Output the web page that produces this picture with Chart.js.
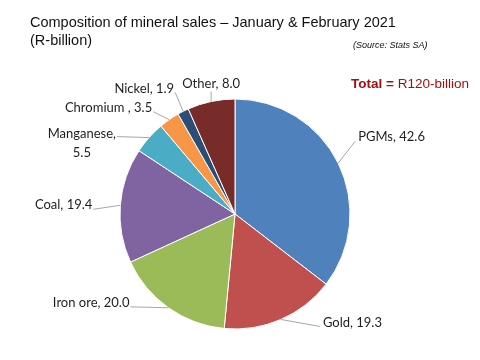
<!DOCTYPE html>
<html>
<head>
<meta charset="utf-8">
<script src="https://cdn.jsdelivr.net/npm/chart.js@4.4.1/dist/chart.umd.min.js"></script>
<style>
  html, body { margin: 0; padding: 0; background: #fff; }
  #wrap { position: relative; width: 480px; height: 360px; }
  #title {
    position: absolute; left: 30px; top: 13px;
    font-family: 'Liberation Sans', Arial, sans-serif; font-size: 14.5px; line-height: 18px;
    color: #111;
  }
  #source {
    position: absolute; left: 353px; top: 40px;
    font-family: 'Liberation Sans', Arial, sans-serif; font-size: 9px; font-style: italic; line-height: 10px;
    color: #111;
  }
  #total {
    position: absolute; left: 351px; top: 76px;
    font-family: 'Liberation Sans', Arial, sans-serif; font-size: 13.5px; line-height: 16px;
    color: #a01010;
  }
</style>
</head>
<body>
<div id="wrap">
  <canvas id="mineralPie" width="480" height="360"></canvas>
  <div id="title">Composition of mineral sales – January &amp; February 2021<br>(R-billion)</div>
  <div id="source">(Source: Stats SA)</div>
  <div id="total"><b>Total =</b> R120-billion</div>
</div>
<script>
// Mineral sales, R-billion (Jan + Feb 2021)
const minerals = ['PGMs', 'Gold', 'Iron ore', 'Coal', 'Manganese', 'Chromium ', 'Nickel', 'Other'];
const salesRbn = [42.6, 19.3, 20.0, 19.4, 5.5, 3.5, 1.9, 8.0];
const sliceColours = ['#4f81bd', '#c0504d', '#9bbb59', '#8064a2', '#4bacc6', '#f79646', '#2c4d75', '#772c2a'];

// where each leader line ends (relative to the slice edge) and which side the label sits
const labelLayout = [
    { dx: 17, dy: -22, side: 'right' },
    { dx: 39, dy: 7, side: 'right' },
    { dx: -38, dy: -1, side: 'left' },
    { dx: -27, dy: 4, side: 'left' },
    { dx: -32, dy: -1, side: 'left', wrap: true },
    { dx: -16, dy: -8, side: 'left' },
    { dx: -8, dy: -19, side: 'left' },
    { dx: 0, dy: -10, side: 'top' }
];

// Excel-style outside labels with leader lines
const outsideLabels = {
    id: 'outsideLabels',
    afterDatasetsDraw(chart) {
        const ctx = chart.ctx;
        const meta = chart.getDatasetMeta(0);
        ctx.save();
        ctx.font = '13px Lato, sans-serif';
        ctx.textBaseline = 'middle';
        ctx.fillStyle = '#1e1e1e';
        ctx.strokeStyle = '#a6a6a6';
        ctx.lineWidth = 1;
        meta.data.forEach((arc, i) => {
            const { x, y, startAngle, endAngle, outerRadius } =
                arc.getProps(['x', 'y', 'startAngle', 'endAngle', 'outerRadius'], true);
            const mid = (startAngle + endAngle) / 2;
            const ex = x + Math.cos(mid) * outerRadius;
            const ey = y + Math.sin(mid) * outerRadius;
            const lay = labelLayout[i];
            const lx = ex + lay.dx;
            const ly = ey + lay.dy;

            ctx.beginPath();
            ctx.moveTo(ex, ey);
            ctx.lineTo(lx, ly);
            ctx.stroke();

            const value = salesRbn[i].toFixed(1);
            if (lay.wrap) {
                const lines = [minerals[i] + ',', value];
                const w = Math.max(...lines.map(t => ctx.measureText(t).width));
                const cx = lx - 1 - w / 2;
                ctx.textAlign = 'center';
                lines.forEach((t, k) => ctx.fillText(t, cx, ly - 3 + k * 19));
            } else {
                const text = minerals[i] + ', ' + value;
                if (lay.side === 'right') {
                    ctx.textAlign = 'left';
                    ctx.fillText(text, lx + 3, ly - 4);
                } else if (lay.side === 'left') {
                    ctx.textAlign = 'right';
                    ctx.fillText(text, lx - 1, ly - 4);
                } else {
                    ctx.textAlign = 'center';
                    ctx.fillText(text, lx, ly - 8);
                }
            }
        });
        ctx.restore();
    }
};

const ctx = document.getElementById('mineralPie').getContext('2d');
const mineralChart = new Chart(ctx, {
    type: 'pie',
    data: {
        labels: minerals,
        datasets: [{
            data: salesRbn,
            backgroundColor: sliceColours,
            borderColor: '#ffffff',
            borderWidth: 1,
            radius: 115
        }]
    },
    options: {
        responsive: false,
        animation: false,
        layout: {
            padding: { left: 0, right: 10, top: 68, bottom: 0 }
        },
        plugins: {
            legend: { display: false },
            tooltip: { enabled: false }
        }
    },
    plugins: [outsideLabels]
});
</script>
</body>
</html>
